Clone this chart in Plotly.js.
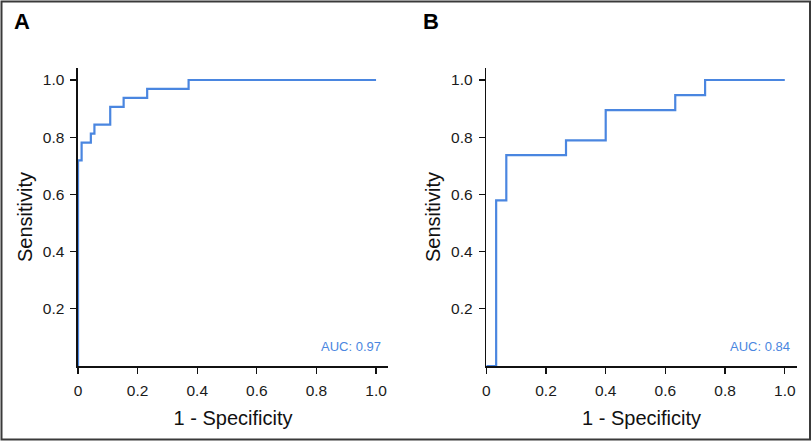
<!DOCTYPE html>
<html>
<head>
<meta charset="utf-8">
<script src="https://cdn.plot.ly/plotly-3.0.1.min.js"></script>
<style>html,body{margin:0;padding:0;background:#fff;}#chart{width:812px;height:441px;}</style>
</head>
<body>
<div id="chart"></div>
<script>
// Panel A ROC curve (1 - specificity vs sensitivity)
var fprA = [0, 0, 0.012, 0.043, 0.055, 0.108, 0.153, 0.232, 0.371, 1.0];
var tprA = [0, 0.719, 0.781, 0.8125, 0.844, 0.906, 0.9375, 0.969, 1.0, 1.0];
// Panel B ROC curve
var fprB = [0, 0.033, 0.067, 0.267, 0.4, 0.633, 0.733, 1.0];
var tprB = [0, 0.579, 0.737, 0.789, 0.895, 0.947, 1.0, 1.0];
var aucLabels = ["AUC: 0.97", "AUC: 0.84"];
var panelLabels = ["A", "B"];
var xTickVals = [0, 0.2, 0.4, 0.6, 0.8, 1.0];
var xTickText = ["0", "0.2", "0.4", "0.6", "0.8", "1.0"];
var yTickVals = [0.2, 0.4, 0.6, 0.8, 1.0];
var yTickText = ["0.2", "0.4", "0.6", "0.8", "1.0"];

var BLUE = "#4a86e0";
var FONT = "Liberation Sans, Arial, sans-serif";

var traces = [
  {x: fprA, y: tprA, type: "scatter", mode: "lines", line: {color: BLUE, width: 2.2, shape: "hv"}, xaxis: "x", yaxis: "y", cliponaxis: false, hoverinfo: "skip"},
  {x: fprB, y: tprB, type: "scatter", mode: "lines", line: {color: BLUE, width: 2.2, shape: "hv"}, xaxis: "x2", yaxis: "y2", cliponaxis: false, hoverinfo: "skip"}
];

function xax(domain, anchor) {
  return {
    domain: domain, anchor: anchor, range: [0, 1.04], showgrid: false, zeroline: false,
    showline: true, linecolor: "#111", linewidth: 1.6, layer: "below traces",
    ticks: "outside", ticklen: 6, tickwidth: 1.2, tickcolor: "#111",
    tickvals: xTickVals, ticktext: xTickText, ticklabelstandoff: 4,
    tickfont: {family: FONT, size: 15.5, color: "#1a1a1a"},
    title: {text: "1 - Specificity", font: {family: FONT, size: 20, color: "#111"}, standoff: 13}
  };
}
function yax(anchor) {
  return {
    domain: [0.1701, 0.8458], anchor: anchor, range: [0, 1.042], showgrid: false, zeroline: false,
    showline: true, linecolor: "#111", linewidth: 1.6, layer: "below traces",
    ticks: "outside", ticklen: 6, tickwidth: 1.2, tickcolor: "#111",
    tickvals: yTickVals, ticktext: yTickText, ticklabelstandoff: 3,
    tickfont: {family: FONT, size: 15.5, color: "#1a1a1a"},
    title: {text: "Sensitivity", font: {family: FONT, size: 20, color: "#111"}, standoff: 5}
  };
}

var layout = {
  width: 812, height: 441,
  margin: {l: 0, r: 0, t: 0, b: 0},
  paper_bgcolor: "#fff", plot_bgcolor: "rgba(0,0,0,0)",
  showlegend: false,
  xaxis: xax([0.0961, 0.4778], "y"),
  yaxis: yax("x"),
  xaxis2: xax([0.5989, 0.9812], "y2"),
  yaxis2: yax("x2"),
  annotations: [
    {xref: "x", yref: "y", x: 1.023, y: 0.067, xanchor: "right", yanchor: "middle", text: aucLabels[0], showarrow: false, font: {family: FONT, size: 13, color: BLUE}},
    {xref: "x2", yref: "y2", x: 1.023, y: 0.067, xanchor: "right", yanchor: "middle", text: aucLabels[1], showarrow: false, font: {family: FONT, size: 13, color: BLUE}},
    {xref: "paper", yref: "paper", x: 22/812, y: 1 - 22/441, xanchor: "center", yanchor: "middle", text: "<b>" + panelLabels[0] + "</b>", showarrow: false, font: {family: FONT, size: 22, color: "#000"}},
    {xref: "paper", yref: "paper", x: 431/812, y: 1 - 22/441, xanchor: "center", yanchor: "middle", text: "<b>" + panelLabels[1] + "</b>", showarrow: false, font: {family: FONT, size: 22, color: "#000"}}
  ],
  shapes: [
    {type: "rect", xref: "paper", yref: "paper", x0: 1.5/812, x1: 810/812, y0: 1 - 439.5/441, y1: 1 - 1.5/441, line: {color: "#3a3a3a", width: 2}, fillcolor: "rgba(0,0,0,0)", layer: "above"}
  ]
};

Plotly.newPlot("chart", traces, layout, {displayModeBar: false, staticPlot: true});
</script>
</body>
</html>
